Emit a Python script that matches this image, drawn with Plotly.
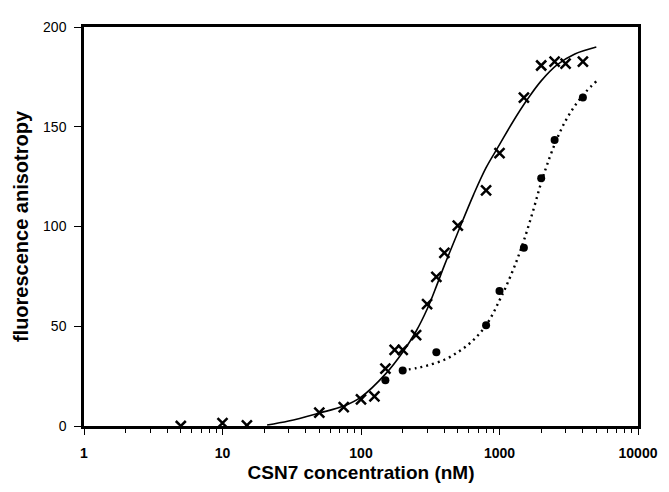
import plotly.graph_objects as go

# Data
cross_x = [5, 10, 15, 50, 75, 100, 125, 150, 175, 200, 250, 300, 350, 400, 500, 800, 1000, 1500, 2000, 2500, 3000, 4000]
cross_y = [0, 1.5, 0.3, 6.7, 9.5, 13.3, 14.9, 28.8, 38.2, 38.2, 45.5, 61.1, 74.7, 86.8, 100.4, 118.1, 136.8, 164.6, 180.7, 182.6, 181.7, 182.6]

dot_x = [150, 200, 350, 800, 1000, 1500, 2000, 2500, 4000]
dot_y = [22.9, 27.8, 37.0, 50.5, 67.7, 89.3, 124.2, 143.3, 164.6]

fit1_x = [21, 30, 50, 75, 100, 150, 200, 250, 300, 350, 400, 500, 650, 800, 1000, 1250, 1600, 2000, 2600, 3500, 5000]
fit1_y = [0.5, 2.5, 6.5, 10.0, 14.5, 26.0, 37.0, 47.5, 58.5, 70.0, 80.5, 97.0, 116.0, 129.5, 141.0, 152.5, 164.0, 173.0, 181.0, 186.5, 190.0]

fit2_x = [200, 250, 300, 400, 500, 600, 700, 800, 900, 1000, 1100, 1300, 1500, 1750, 2000, 2300, 2600, 3000, 3500, 4200, 5000]
fit2_y = [27.9, 29.0, 30.3, 33.2, 37.0, 41.0, 45.5, 50.5, 56.5, 63.0, 69.0, 81.0, 93.0, 108.0, 122.0, 134.5, 144.0, 153.0, 160.5, 167.5, 172.8]

x_ticks = [1, 10, 100, 1000, 10000]
x_ticklabels = ["1", "10", "100", "1000", "10000"]
y_ticks = [0, 50, 100, 150, 200]

FONT = "Liberation Sans, Arial, sans-serif"

fig = go.Figure()
fig.add_trace(go.Scatter(x=fit1_x, y=fit1_y, mode="lines",
                         line=dict(color="black", width=1.6, shape="spline", smoothing=1.0),
                         showlegend=False, hoverinfo="skip"))
fig.add_trace(go.Scatter(x=fit2_x, y=fit2_y, mode="lines",
                         line=dict(color="black", width=2.4, dash="2px,4px", shape="spline", smoothing=1.0),
                         showlegend=False, hoverinfo="skip"))
fig.add_trace(go.Scatter(x=cross_x, y=cross_y, mode="markers",
                         marker=dict(symbol="x-thin-open", size=10, color="black",
                                     line=dict(color="black", width=2.5)),
                         showlegend=False))
fig.add_trace(go.Scatter(x=dot_x, y=dot_y, mode="markers",
                         marker=dict(symbol="circle", size=8, color="black"),
                         showlegend=False))

minor_vals = [m * 10 ** d for d in range(0, 4) for m in range(2, 10)]

fig.update_xaxes(type="log", range=[0, 4],
                 tickvals=x_ticks, ticktext=x_ticklabels,
                 ticks="outside", ticklen=6, tickwidth=1.2, tickcolor="black",
                 ticklabelstandoff=6,
                 minor=dict(tickmode="array", tickvals=minor_vals, ticks="outside",
                            ticklen=4, tickwidth=1, tickcolor="black", showgrid=False),
                 showline=True, linewidth=2.5, linecolor="black", mirror=True,
                 showgrid=False, zeroline=False,
                 tickfont=dict(family=FONT, size=14, color="black", weight="bold"),
                 title=dict(text="<b>CSN7 concentration (nM)</b>",
                            font=dict(family=FONT, size=19, color="black"), standoff=7))
fig.update_yaxes(range=[0, 200], tickvals=y_ticks,
                 ticks="outside", ticklen=7, tickwidth=1.2, tickcolor="black",
                 ticklabelstandoff=5,
                 showline=True, linewidth=2.5, linecolor="black", mirror=True,
                 showgrid=False, zeroline=False,
                 tickfont=dict(family=FONT, size=14, color="black"),
                 title=dict(text="<b>fluorescence anisotropy</b>",
                            font=dict(family=FONT, size=20, color="black"), standoff=10))

# The page body has an 8px margin, so the figure is offset by 8px.
fig.update_layout(width=661, height=484,
                  margin=dict(l=73, r=23, t=11, b=66),
                  plot_bgcolor="white", paper_bgcolor="white")

fig.write_html("out.html")
